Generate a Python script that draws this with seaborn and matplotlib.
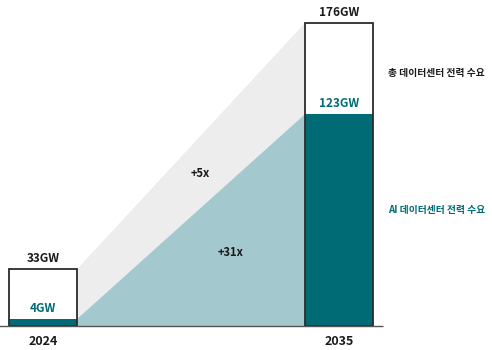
import matplotlib
matplotlib.use("Agg")
import matplotlib.pyplot as plt
import seaborn as sns
import pandas as pd

years = ["2024", "2035"]
total_gw = [33, 176]
ai_gw = [4, 123]
total_labels = ["33GW", "176GW"]
ai_labels = ["4GW", "123GW"]
growth_labels = ["+5x", "+31x"]
legend_labels = ["총 데이터센터 전력 수요", "AI 데이터센터 전력 수요"]

DARK = "#006B74"
LIGHT = "#A3C9CE"
GRAY = "#EDEDED"
EDGE = "#2b2b2b"
TEXT = "#1a1a1a"

sns.set_theme(style="white")
plt.rcParams["font.family"] = ["Noto Sans CJK KR", "DejaVu Sans"]

fig = plt.figure(figsize=(4.92, 3.5), dpi=100)
ax = fig.add_axes([0, 0, 1, 1])

df = pd.DataFrame({"year": years, "total": total_gw, "ai": ai_gw})
w = 0.23

# growth wedges
x0r = 0 + w / 2
x1l = 1 - w / 2
ax.fill([x0r, x0r, x1l, x1l], [0, total_gw[0], total_gw[1], 0], color=GRAY, lw=0, zorder=1)
ax.fill([x0r, x0r, x1l, x1l], [0, ai_gw[0], ai_gw[1], 0], color=LIGHT, lw=0, zorder=2)

sns.barplot(data=df, x="year", y="total", color="white", width=w, ax=ax,
            saturation=1, linewidth=0, zorder=3)
sns.barplot(data=df, x="year", y="ai", color=DARK, width=w, ax=ax,
            saturation=1, linewidth=0, zorder=4)
for i, t in enumerate(total_gw):
    ax.bar(i, t, width=w, facecolor="none", edgecolor=EDGE, linewidth=1.3, zorder=5)

# baseline
ax.plot([-0.2, 1.15], [0, 0], color="#555555", lw=1.0, zorder=6, solid_capstyle="butt")

for i in range(2):
    ax.text(i, total_gw[i] + 2.3, total_labels[i], ha="center", va="bottom",
            fontsize=8.5, fontweight="bold", color=TEXT, zorder=7)
    ax.text(i, ai_gw[i] + 2.5, ai_labels[i], ha="center", va="bottom",
            fontsize=8.5, fontweight="bold", color=DARK, zorder=7)
    ax.text(i, -9.0, years[i], ha="center", va="center",
            fontsize=9, fontweight="bold", color=TEXT, zorder=7)

ax.text(0.53, 88.5, growth_labels[0], ha="center", va="center", fontsize=8,
        fontweight="bold", color=TEXT, zorder=7)
ax.text(0.635, 42.5, growth_labels[1], ha="center", va="center", fontsize=8,
        fontweight="bold", color=TEXT, zorder=7)

ax.text(1.165, 147, legend_labels[0], ha="left", va="center", fontsize=7,
        fontweight="bold", color=TEXT, zorder=7)
ax.text(1.165, 67.5, legend_labels[1], ha="left", va="center", fontsize=7,
        fontweight="bold", color=DARK, zorder=7)

ax.set_xlim(-43 / 296, (492 - 43) / 296)
ax.set_ylim(-24 / 1.7216, 326 / 1.7216)
ax.set_axis_off()

fig.savefig("out.png", dpi=100, facecolor="white")
